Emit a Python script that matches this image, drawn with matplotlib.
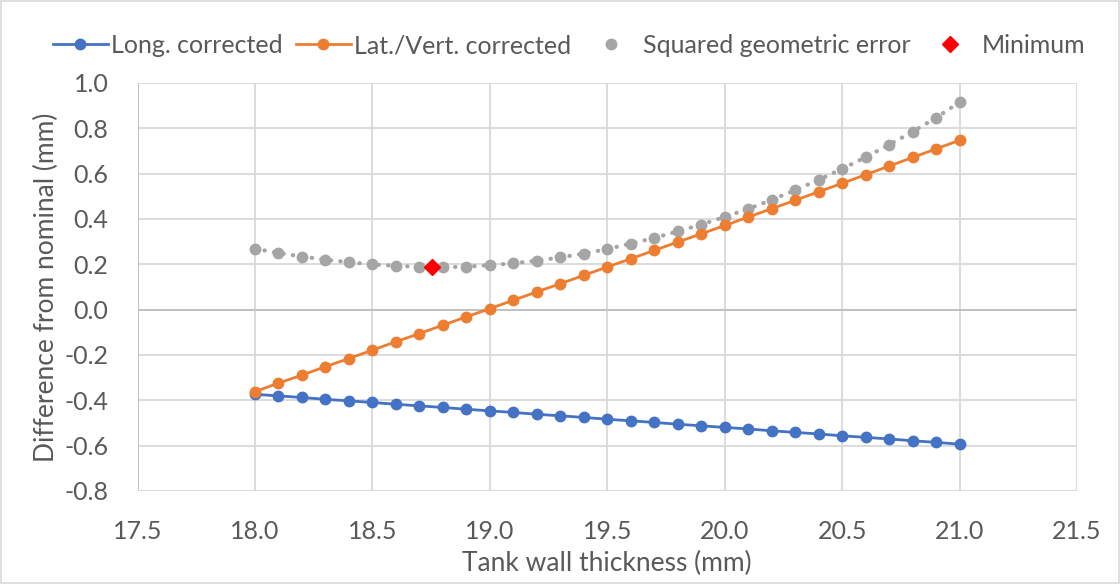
import matplotlib
matplotlib.use("Agg")
import matplotlib.pyplot as plt
from matplotlib.lines import Line2D
from matplotlib.patches import Rectangle

thickness = [18.0, 18.1, 18.2, 18.3, 18.4, 18.5, 18.6, 18.7, 18.8, 18.9,
             19.0, 19.1, 19.2, 19.3, 19.4, 19.5, 19.6, 19.7, 19.8, 19.9,
             20.0, 20.1, 20.2, 20.3, 20.4, 20.5, 20.6, 20.7, 20.8, 20.9, 21.0]
long_corrected = [-0.374, -0.381, -0.388, -0.396, -0.403, -0.410, -0.418, -0.425, -0.432, -0.440,
                  -0.447, -0.454, -0.462, -0.469, -0.476, -0.484, -0.491, -0.498, -0.506, -0.513,
                  -0.520, -0.527, -0.535, -0.542, -0.549, -0.557, -0.564, -0.571, -0.579, -0.586, -0.594]
lat_vert_corrected = [-0.362, -0.325, -0.289, -0.252, -0.216, -0.179, -0.142, -0.106, -0.069, -0.032,
                      0.004, 0.041, 0.078, 0.114, 0.151, 0.188, 0.224, 0.261, 0.298, 0.334,
                      0.371, 0.408, 0.445, 0.482, 0.520, 0.557, 0.595, 0.633, 0.671, 0.709, 0.747]
squared_error = [0.268, 0.250, 0.234, 0.220, 0.209, 0.199, 0.193, 0.188, 0.187, 0.189,
                 0.196, 0.204, 0.216, 0.230, 0.247, 0.267, 0.291, 0.316, 0.345, 0.375,
                 0.409, 0.444, 0.484, 0.527, 0.572, 0.621, 0.672, 0.727, 0.785, 0.846, 0.915]
minimum_x = [18.754]
minimum_y = [0.187]

x_ticks = [17.5, 18.0, 18.5, 19.0, 19.5, 20.0, 20.5, 21.0, 21.5]
y_ticks = [-0.8, -0.6, -0.4, -0.2, 0.0, 0.2, 0.4, 0.6, 0.8, 1.0]

BLUE = "#4472c4"
ORANGE = "#ed7d31"
GRAY = "#a5a5a5"
RED = "#ff0000"
TEXT = "#595959"
GRID = "#d9d9d9"

plt.rcParams["font.family"] = ["Lato", "DejaVu Sans"]
FS = 18
FS_TITLE = 19

fig = plt.figure(figsize=(11.2, 5.84), dpi=100)
ax = fig.add_axes([0.1228, 0.1595, 0.8388, 0.6985])

ax.plot(thickness, squared_error, linestyle=(0, (0.1, 2.2)), dash_capstyle="round",
        color=GRAY, linewidth=3.0, zorder=2)
ax.plot(thickness, squared_error, linestyle="none", marker="o", markersize=7.5,
        color=GRAY, zorder=3)
ax.plot(thickness, long_corrected, color=BLUE, linewidth=2.0, marker="o",
        markersize=7.5, zorder=4)
ax.plot(thickness, lat_vert_corrected, color=ORANGE, linewidth=2.0, marker="o",
        markersize=7.5, zorder=4)
ax.plot(minimum_x, minimum_y, linestyle="none", marker="D", markersize=8,
        color=RED, zorder=5)

ax.set_xlim(17.5, 21.5)
ax.set_ylim(-0.8, 1.0)
ax.set_xticks(x_ticks)
ax.set_yticks(y_ticks)
ax.set_xticklabels([f"{v:.1f}" for v in x_ticks])
ax.set_yticklabels([f"{v:.1f}" for v in y_ticks])
ax.tick_params(axis="both", length=0, labelsize=FS, labelcolor=TEXT)
ax.tick_params(axis="x", pad=21)
ax.tick_params(axis="y", pad=21)
ax.grid(True, color=GRID, linewidth=1.3, zorder=0)
ax.set_axisbelow(True)
for s in ax.spines.values():
    s.set_visible(False)
ax.axhline(0, color="#bfbfbf", linewidth=1.3, zorder=1)
ax.axvline(17.5, color="#bfbfbf", linewidth=1.3, zorder=1)
ax.axhline(-0.8, color=GRID, linewidth=1.3, zorder=1)

ax.set_xlabel("Tank wall thickness (mm)", fontsize=FS_TITLE, color=TEXT, labelpad=6)
ax.set_ylabel("Difference from nominal (mm)", fontsize=FS_TITLE, color=TEXT, labelpad=4)

handles = [
    Line2D([], [], color=BLUE, linewidth=2.0, marker="o", markersize=7.5),
    Line2D([], [], color=ORANGE, linewidth=2.0, marker="o", markersize=7.5),
    Line2D([], [], color=GRAY, linestyle="none", marker="o", markersize=7.5),
    Line2D([], [], color=RED, linestyle="none", marker="D", markersize=8),
]
labels = ["Long. corrected", "Lat./Vert. corrected", "Squared geometric error", "Minimum"]
leg = fig.legend(handles, labels, loc="center", bbox_to_anchor=(0.508, 0.922), ncol=4,
                 frameon=False, fontsize=FS, handlelength=2.2, handletextpad=0.15,
                 columnspacing=0.5, labelcolor=TEXT)

fig.patches.append(Rectangle((0.0005, 0.001), 0.999, 0.998, transform=fig.transFigure,
                             fill=False, edgecolor=GRID, linewidth=1.2))

fig.savefig("out.png", dpi=100, facecolor="white")
